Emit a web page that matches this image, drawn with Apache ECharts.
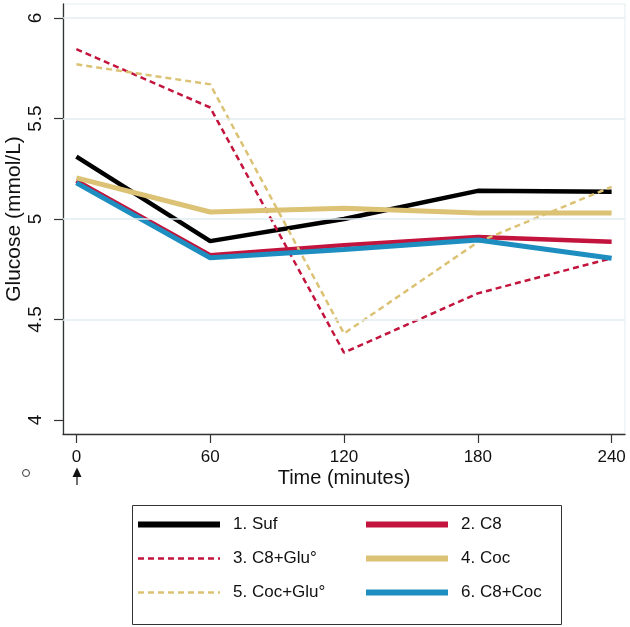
<!DOCTYPE html>
<html>
<head>
    <meta charset="UTF-8">
    <title>Glucose</title>
    <script src="https://cdn.jsdelivr.net/npm/echarts@6/dist/echarts.min.js"></script>
    <style>
        html, body { margin: 0; padding: 0; background: #fff; }
        #chart { width: 630px; height: 627px; }
    </style>
</head>
<body>
<div id="chart"></div>
<script>
    // time points (minutes)
    const times = [0, 60, 120, 180, 240];
    const xTicks = [0, 60, 120, 180, 240];
    const yTicks = [4, 4.5, 5, 5.5, 6];
    const yGrid = [4.5, 5, 5.5, 6];

    // glucose, mmol/L
    const suf     = [5.31, 4.89, 5.00, 5.14, 5.135];
    const c8      = [5.19, 4.82, 4.87, 4.91, 4.887];
    const c8Glu   = [5.845, 5.555, 4.335, 4.63, 4.805];
    const coc     = [5.205, 5.035, 5.053, 5.03, 5.03];
    const cocGlu  = [5.77, 5.67, 4.43, 4.885, 5.16];
    const c8Coc   = [5.18, 4.807, 4.848, 4.895, 4.805];

    const names = ['1. Suf', '2. C8', '3. C8+Glu°', '4. Coc', '5. Coc+Glu°', '6. C8+Coc'];

    const red = '#c2143c';
    const gold = '#dcc274';
    const blue = '#1e8ec0';
    const gridColor = '#e3edf0';
    const font = '"Liberation Sans", Arial, sans-serif';

    function pairs(vals) {
        return times.map((t, i) => [t, vals[i]]);
    }

    function line(name, vals, color, width, dashed) {
        return {
            name: name,
            type: 'line',
            data: pairs(vals),
            symbol: 'none',
            silent: true,
            lineStyle: {color: color, width: width, type: dashed ? [6, 4] : 'solid', cap: 'butt'},
            itemStyle: {color: color}
        };
    }

    // legend item with its own line width and no symbol
    function legendItem(i, width) {
        return {name: names[i], itemStyle: {opacity: 0}, lineStyle: {width: width}};
    }

    const chart = echarts.init(document.getElementById('chart'));
    const series = [
        line(names[0], suf, '#000', 4.5, false),
        line(names[1], c8, red, 4.5, false),
        line(names[2], c8Glu, red, 2.5, true),
        line(names[3], coc, gold, 5, false),
        line(names[4], cocGlu, gold, 2.5, true),
        line(names[5], c8Coc, blue, 5, false)
    ];
    // horizontal grid lines, drawn under the data
    series.unshift({
        type: 'line',
        data: [],
        silent: true,
        z: 1,
        markLine: {
            silent: true,
            symbol: 'none',
            label: {show: false},
            lineStyle: {color: gridColor, width: 1.5, type: 'solid'},
            data: yGrid.map(v => ({yAxis: v}))
        }
    });

    const legendText = {
        color: '#111', fontSize: 17, fontFamily: font, padding: [0, 0, 0, 8]
    };

    chart.setOption({
        animation: false,
        grid: {
            left: 63, right: 5, top: 4, bottom: 193,
            outerBoundsMode: 'none',
            containLabel: false,
            show: true, borderColor: gridColor, borderWidth: 1
        },
        xAxis: {
            type: 'value',
            min: -6, max: 246,
            name: 'Time (minutes)',
            nameLocation: 'middle',
            nameGap: 34,
            nameMoveOverlap: false,
            nameTextStyle: {fontSize: 20, color: '#111', fontFamily: font},
            axisLine: {show: true, onZero: false, lineStyle: {color: '#333', width: 1.3}},
            axisTick: {show: true, length: 9, customValues: xTicks, lineStyle: {color: '#333', width: 1.2}},
            axisLabel: {customValues: xTicks, margin: 15, fontSize: 17, color: '#111', fontFamily: font},
            splitLine: {show: false}
        },
        yAxis: {
            type: 'value',
            min: 3.93, max: 6.07,
            name: 'Glucose (mmol/L)',
            nameLocation: 'middle',
            nameRotate: 90,
            nameGap: 38,
            nameMoveOverlap: false,
            nameTextStyle: {fontSize: 21, color: '#111', fontFamily: font},
            axisLine: {show: true, onZero: false, lineStyle: {color: '#333', width: 1.3}},
            axisTick: {show: true, length: 9, customValues: yTicks, lineStyle: {color: '#333', width: 1.2}},
            axisLabel: {customValues: yTicks, rotate: 90, margin: 18, fontSize: 19, color: '#111', fontFamily: font},
            splitLine: {show: false}
        },
        legend: [{
            orient: 'vertical',
            left: 130, top: 511,
            itemWidth: 82, itemHeight: 14, itemGap: 17,
            selectedMode: false,
            data: [legendItem(0, 6), legendItem(2, 2.5), legendItem(4, 2.5)],
            textStyle: legendText
        }, {
            orient: 'vertical',
            left: 358, top: 511,
            itemWidth: 82, itemHeight: 14, itemGap: 17,
            selectedMode: false,
            data: [legendItem(1, 6), legendItem(3, 6), legendItem(5, 6)],
            textStyle: legendText
        }],
        graphic: [
            {
                type: 'rect',
                left: 130, top: 503,
                shape: {width: 429, height: 119},
                style: {fill: 'none', stroke: '#333', lineWidth: 1}
            },
            {
                type: 'circle',
                shape: {cx: 26, cy: 473, r: 3.5},
                style: {fill: 'none', stroke: '#333', lineWidth: 1}
            },
            {
                type: 'line',
                shape: {x1: 77, y1: 476, x2: 77, y2: 485},
                style: {stroke: '#111', lineWidth: 1.2}
            },
            {
                type: 'polygon',
                shape: {points: [[77, 467.5], [72.5, 477], [81.5, 477]]},
                style: {fill: '#111'}
            }
        ],
        series: series
    });
</script>
</body>
</html>
